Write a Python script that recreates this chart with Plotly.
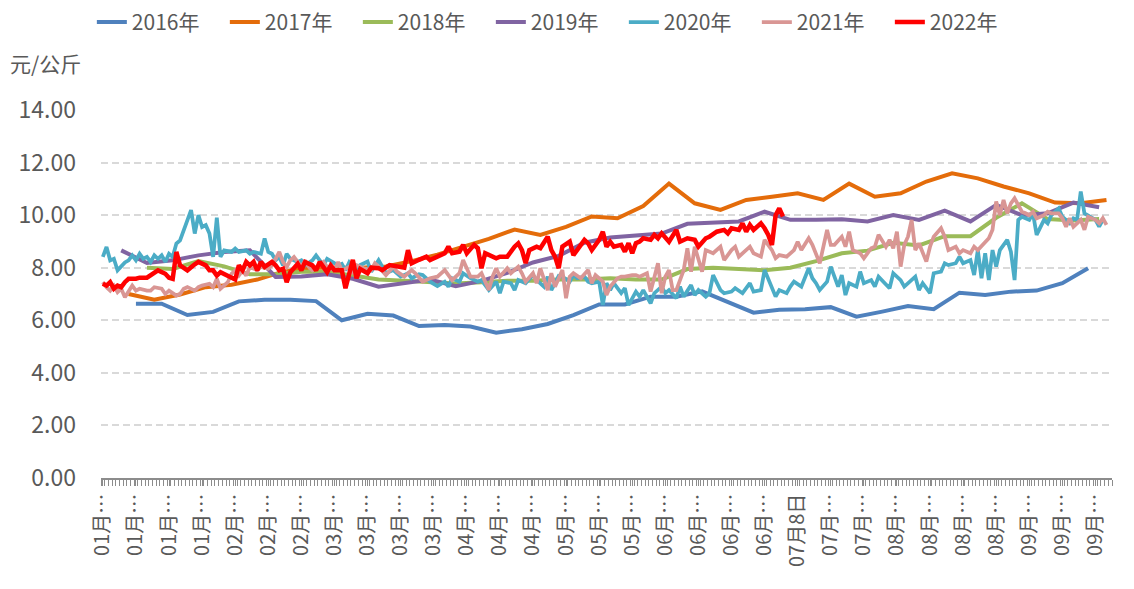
import plotly.graph_objects as go

# ---------------- data ----------------
tick_days = [0, 9, 18, 27, 36, 45, 54, 63, 72, 81, 90, 99, 108, 117, 126, 135, 144, 153, 162, 171, 180,
             189, 198, 207, 216, 225, 234, 243, 252, 261, 270]
tick_labels = ["01月…", "01月…", "01月…", "01月…", "02月…", "02月…", "02月…", "03月…", "03月…", "03月…",
               "03月…", "04月…", "04月…", "04月…", "05月…", "05月…", "05月…", "06月…", "06月…", "06月…",
               "06月…", "07月8日", "07月…", "07月…", "08月…", "08月…", "08月…", "08月…", "09月…", "09月…",
               "09月…"]
y_ticks = [0, 2, 4, 6, 8, 10, 12, 14]
y_tick_labels = ["0.00", "2.00", "4.00", "6.00", "8.00", "10.00", "12.00", "14.00"]

days_2016 = [9, 16, 23, 30, 37, 44, 51, 58, 65, 72, 79, 86, 93, 100, 107, 114, 121, 128, 135, 142, 149, 156,
             163, 170, 177, 184, 191, 198, 205, 212, 219, 226, 233, 240, 247, 254, 261, 268]
vals_2016 = [6.63, 6.63, 6.2, 6.32, 6.72, 6.78, 6.78, 6.73, 6.0, 6.25, 6.18, 5.78, 5.82, 5.76, 5.53, 5.66, 5.86,
             6.2, 6.6, 6.6, 6.9, 6.9, 7.1, 6.7, 6.29, 6.4, 6.42, 6.5, 6.14, 6.33, 6.54, 6.42, 7.05, 6.96, 7.09,
             7.13, 7.41, 7.98]

days_2017 = [7, 14, 21, 28, 35, 42, 49, 56, 63, 70, 77, 84, 91, 98, 105, 112, 119, 126, 133, 140, 147, 154,
             161, 168, 175, 182, 189, 196, 203, 210, 217, 224, 231, 238, 245, 252, 259, 266, 273]
vals_2017 = [7.0, 6.78, 6.98, 7.26, 7.35, 7.55, 7.85, 8.0, 8.0, 8.0, 8.05, 8.25, 8.5, 8.8, 9.1, 9.45, 9.25, 9.55,
             9.95, 9.88, 10.35, 11.2, 10.45, 10.2, 10.58, 10.7, 10.83, 10.58, 11.2, 10.7, 10.83, 11.28, 11.59,
             11.4, 11.09, 10.83, 10.48, 10.45, 10.58]

days_2018 = [12, 19, 26, 33, 40, 47, 54, 61, 68, 75, 82, 89, 96, 103, 110, 117, 124, 131, 138, 145, 152, 159,
             166, 173, 180, 187, 194, 201, 208, 215, 222, 229, 236, 243, 250, 257, 264, 271]
vals_2018 = [8.0, 7.95, 8.25, 8.05, 7.75, 7.75, 7.85, 7.85, 7.7, 7.55, 7.5, 7.45, 7.4, 7.45, 7.5, 7.5, 7.55, 7.55,
             7.6, 7.55, 7.55, 7.95, 8.0, 7.95, 7.9, 8.0, 8.25, 8.55, 8.65, 8.95, 8.85, 9.2, 9.2, 9.9, 10.45, 9.85,
             9.8, 9.85]

days_2019 = [5, 12, 19, 26, 33, 40, 47, 54, 61, 68, 75, 82, 89, 96, 103, 110, 117, 124, 131, 138, 145, 152,
             159, 166, 173, 180, 187, 194, 201, 208, 215, 222, 229, 236, 243, 250, 257, 264, 271]
vals_2019 = [8.66, 8.18, 8.28, 8.47, 8.6, 8.66, 7.65, 7.67, 7.75, 7.58, 7.28, 7.4, 7.55, 7.3, 7.5, 7.8, 8.2, 8.45,
             8.95, 9.15, 9.22, 9.3, 9.67, 9.72, 9.76, 10.13, 9.82, 9.82, 9.84, 9.76, 10.0, 9.82, 10.17, 9.76,
             10.39, 10.0, 10.07, 10.48, 10.3]

days_2020 = [0, 1, 2, 3, 4, 6, 7, 8, 9, 10, 11, 12, 13, 14, 15, 16, 17, 18, 19, 20, 21, 22, 23, 24, 25, 26, 27,
             28, 29, 30, 31, 32, 33, 35, 36, 37, 39, 40, 41, 43, 44, 45, 46, 47, 48, 49, 50, 51, 53, 54, 55, 57,
             58, 59, 60, 61, 63, 64, 65, 66, 67, 68, 69, 70, 72, 73, 75, 77, 79, 81, 83, 84, 86, 87, 89, 91, 93,
             94, 95, 97, 98, 100, 102, 103, 105, 107, 108, 109, 111, 112, 113, 115, 117, 118, 120, 121, 122, 124,
             125, 127, 128, 129, 131, 132, 133, 135, 136, 137, 138, 139, 141, 142, 143, 145, 146, 147, 149, 150,
             152, 153, 154, 156, 157, 158, 160, 161, 162, 164, 165, 166, 168, 169, 171, 172, 174, 176, 177, 179,
             180, 181, 183, 184, 186, 187, 188, 190, 191, 192, 193, 194, 195, 197, 198, 200, 201, 202, 203, 205,
             206, 207, 209, 210, 211, 213, 214, 215, 217, 218, 219, 221, 222, 223, 225, 226, 228, 229, 230, 232,
             233, 234, 236, 237, 238, 239, 240, 241, 242, 243, 244, 246, 247, 248, 249, 250, 252, 253, 254, 256,
             257, 258, 260, 261, 263, 264, 265, 266, 267, 269, 270, 271, 272]
vals_2020 = [8.41, 8.79, 8.28, 8.34, 7.9, 8.2, 8.28, 8.47, 8.28, 8.53, 8.34, 8.41, 8.22, 8.47, 8.34, 8.47, 8.22,
             8.53, 8.41, 8.92, 9.04, 9.43, 9.8, 10.19, 9.3, 10.0, 9.55, 9.62, 9.3, 8.41, 9.9, 8.41, 8.66, 8.6,
             8.73, 8.6, 8.66, 8.53, 8.6, 8.53, 9.11, 8.6, 8.53, 8.28, 8.41, 8.09, 8.53, 8.34, 8.22, 8.28, 8.09,
             8.28, 8.47, 8.28, 8.09, 8.34, 8.15, 8.09, 8.15, 7.9, 8.2, 8.0, 7.9, 8.1, 8.23, 7.85, 8.29, 7.79, 7.91,
             7.66, 7.79, 7.6, 7.75, 7.72, 7.47, 7.3, 7.47, 7.28, 7.6, 7.47, 7.79, 7.6, 7.47, 7.53, 7.15, 7.47,
             7.03, 7.47, 7.41, 7.15, 7.53, 7.41, 7.72, 7.53, 7.28, 7.66, 7.15, 7.69, 7.66, 7.47, 7.72, 7.6, 7.66,
             7.47, 7.41, 7.47, 6.58, 7.41, 7.15, 7.41, 7.03, 7.22, 6.58, 7.09, 6.9, 7.15, 6.64, 7.03, 7.28, 7.03,
             7.15, 6.84, 7.28, 6.9, 7.34, 6.96, 7.15, 6.9, 7.03, 7.72, 7.15, 7.03, 7.09, 7.22, 7.03, 7.41, 7.09,
             7.15, 7.91, 7.6, 6.9, 7.15, 7.03, 7.28, 7.47, 7.28, 7.66, 7.98, 7.6, 7.41, 7.15, 7.47, 8.04, 7.28,
             7.72, 6.96, 7.41, 7.28, 7.85, 7.41, 7.53, 7.28, 7.66, 7.34, 7.22, 7.79, 7.53, 7.28, 7.41, 7.66, 7.15,
             7.41, 7.03, 7.79, 7.85, 8.17, 8.1, 8.17, 8.42, 8.17, 8.29, 7.72, 8.67, 7.6, 8.55, 7.53, 8.67, 8.04,
             8.67, 9.06, 8.61, 7.53, 9.82, 9.94, 9.82, 10.07, 9.25, 9.82, 9.69, 10.0, 10.26, 9.94, 9.69, 9.88,
             9.82, 10.9, 10.07, 9.88, 9.82, 9.56, 9.82]

days_2021 = [0, 1, 2, 3, 4, 5, 6, 7, 8, 9, 10, 12, 13, 14, 16, 17, 18, 20, 21, 22, 23, 25, 26, 27, 29, 30, 31,
             32, 33, 34, 35, 36, 37, 38, 39, 40, 42, 43, 45, 46, 47, 48, 49, 50, 51, 52, 53, 54, 55, 56, 57, 59,
             60, 61, 63, 64, 65, 67, 68, 69, 71, 73, 74, 75, 77, 79, 80, 82, 84, 85, 87, 89, 91, 93, 95, 97, 98,
             100, 102, 103, 105, 106, 107, 108, 110, 111, 113, 114, 115, 117, 118, 119, 121, 122, 123, 125, 126,
             127, 128, 130, 132, 133, 134, 136, 137, 138, 140, 141, 142, 144, 145, 146, 148, 149, 150, 151, 152,
             153, 154, 155, 156, 158, 159, 160, 161, 163, 164, 166, 168, 169, 171, 172, 173, 175, 176, 177, 179,
             180, 182, 183, 184, 186, 188, 189, 190, 192, 193, 195, 196, 197, 198, 199, 201, 202, 203, 204, 206,
             207, 209, 210, 211, 213, 214, 215, 216, 217, 218, 219, 220, 221, 222, 224, 225, 226, 228, 229, 230,
             232, 233, 234, 236, 237, 238, 240, 241, 242, 243, 244, 245, 246, 247, 248, 250, 251, 252, 253, 254,
             256, 257, 258, 260, 261, 262, 263, 264, 266, 267, 268, 270, 271, 272, 273]
vals_2021 = [7.45, 7.26, 7.13, 7.32, 7.07, 7.2, 6.88, 7.13, 7.32, 7.13, 7.2, 7.13, 7.13, 7.26, 7.2, 7.0, 7.13,
             6.94, 7.0, 7.2, 7.26, 7.13, 7.26, 7.32, 7.39, 7.26, 7.58, 7.2, 7.32, 7.45, 7.77, 7.9, 7.7, 7.9, 7.7,
             8.03, 7.9, 8.03, 7.96, 8.09, 8.34, 8.6, 8.22, 8.03, 8.28, 8.41, 8.22, 8.03, 8.28, 8.03, 7.9, 8.09,
             8.22, 8.03, 7.9, 8.22, 7.9, 8.03, 7.77, 8.1, 7.98, 7.91, 8.17, 8.04, 7.72, 8.04, 7.85, 7.66, 7.91,
             7.79, 7.47, 7.6, 7.66, 7.91, 7.53, 7.79, 8.29, 7.66, 7.66, 7.79, 7.15, 7.66, 7.98, 7.66, 7.98, 7.79,
             8.04, 7.79, 7.47, 7.79, 7.41, 7.98, 7.15, 7.79, 7.28, 7.91, 6.84, 7.66, 7.79, 7.6, 7.91, 7.41, 7.72,
             7.47, 6.96, 7.28, 7.6, 7.66, 7.66, 7.72, 7.72, 7.66, 7.79, 7.09, 7.66, 8.17, 7.03, 7.66, 7.91, 7.15,
             7.15, 7.91, 8.74, 7.85, 8.8, 7.85, 8.67, 8.55, 8.8, 8.29, 8.67, 8.8, 8.42, 8.67, 8.8, 8.55, 8.42,
             9.06, 8.67, 8.36, 8.48, 8.42, 8.67, 8.99, 8.67, 9.12, 8.87, 8.17, 8.8, 9.44, 8.87, 8.87, 9.18, 8.8,
             9.37, 8.67, 8.55, 8.36, 8.74, 8.8, 9.25, 8.8, 9.06, 8.74, 9.37, 8.04, 8.87, 9.18, 9.82, 8.67, 8.93,
             8.23, 8.8, 9.18, 9.5, 9.18, 8.67, 8.8, 8.55, 8.67, 8.55, 8.8, 8.67, 8.99, 9.12, 9.44, 10.52, 10.0,
             10.58, 10.07, 10.45, 10.64, 10.13, 10.07, 10.0, 10.13, 9.88, 10.0, 10.13, 10.07, 10.07, 9.88, 9.56,
             9.88, 9.56, 9.82, 9.44, 9.94, 9.82, 9.69, 9.88, 9.63]

days_2022 = [0, 1, 2, 3, 4, 5, 6, 7, 9, 10, 12, 14, 15, 17, 18, 19, 20, 21, 23, 25, 26, 28, 29, 30, 31, 32, 34,
             35, 36, 37, 38, 39, 40, 41, 42, 43, 44, 46, 47, 48, 49, 50, 51, 53, 54, 55, 57, 58, 59, 61, 62, 63,
             65, 66, 67, 68, 69, 70, 72, 73, 75, 76, 78, 80, 82, 83, 84, 86, 88, 89, 91, 93, 94, 95, 97, 98, 99,
             101, 102, 103, 104, 106, 107, 108, 110, 112, 113, 114, 115, 116, 118, 119, 121, 122, 123, 124, 125,
             127, 128, 129, 131, 132, 133, 135, 136, 137, 138, 139, 141, 142, 143, 144, 145, 146, 147, 149, 150,
             151, 152, 154, 155, 156, 157, 159, 161, 162, 164, 165, 167, 169, 170, 171, 173, 174, 175, 176, 177,
             179, 180, 181, 182, 183, 184, 185]
vals_2022 = [7.39, 7.32, 7.45, 7.2, 7.32, 7.26, 7.45, 7.58, 7.58, 7.62, 7.62, 7.83, 7.9, 7.77, 7.62, 7.58, 8.6,
             8.09, 7.9, 8.13, 8.22, 8.09, 7.9, 7.9, 7.7, 7.83, 7.7, 7.62, 7.55, 8.09, 7.9, 8.22, 8.09, 8.22, 7.9,
             8.22, 8.03, 8.22, 8.09, 7.9, 7.96, 7.45, 7.83, 8.15, 7.9, 8.22, 8.09, 7.9, 8.22, 7.83, 8.09, 7.9, 7.9,
             7.22, 7.83, 8.3, 7.6, 7.95, 7.79, 8.0, 7.98, 7.91, 8.1, 8.04, 8.0, 8.67, 8.17, 8.3, 8.42, 8.29, 8.42,
             8.55, 8.8, 8.55, 8.61, 8.87, 8.55, 8.87, 8.74, 7.98, 8.55, 8.42, 8.36, 8.42, 8.42, 8.8, 8.93, 8.67,
             8.17, 8.67, 8.8, 8.74, 9.18, 8.67, 8.42, 7.98, 8.8, 8.99, 8.48, 8.67, 9.06, 8.93, 8.67, 9.06, 9.37,
             8.8, 8.99, 8.8, 8.87, 8.61, 8.93, 8.55, 8.93, 8.99, 9.12, 9.06, 9.25, 9.12, 9.31, 8.99, 9.18, 9.44,
             8.99, 9.12, 9.06, 8.8, 9.12, 9.18, 9.37, 9.44, 9.31, 9.5, 9.44, 9.69, 9.37, 9.63, 9.44, 9.69, 9.5,
             9.25, 8.87, 10.0, 10.26, 9.95]

series = [
    ("2016年", days_2016, vals_2016, "#4F81BD", 4),
    ("2017年", days_2017, vals_2017, "#E46C0A", 4),
    ("2018年", days_2018, vals_2018, "#9BBB59", 4),
    ("2019年", days_2019, vals_2019, "#8064A2", 4),
    ("2020年", days_2020, vals_2020, "#4BACC6", 3.75),
    ("2021年", days_2021, vals_2021, "#D99694", 3.75),
    ("2022年", days_2022, vals_2022, "#FF0000", 4.5),
]

FONT = "Noto Sans CJK SC"
GRAY = "#595959"

fig = go.Figure()
for name, xs, ys, color, w in series:
    fig.add_trace(go.Scatter(x=xs, y=ys, mode="lines", name=name,
                             line=dict(color=color, width=w)))

fig.update_layout(
    width=1134, height=589,
    margin=dict(l=101, r=22, t=110, b=111, autoexpand=False),
    paper_bgcolor="white", plot_bgcolor="white",
    font=dict(family=FONT, color=GRAY),
    legend=dict(orientation="h", xref="container", yref="container",
                x=0.081, xanchor="left", y=0.962, yanchor="middle",
                font=dict(size=21, color=GRAY, family=FONT),
                entrywidth=88, entrywidthmode="pixels",
                bgcolor="rgba(0,0,0,0)"),
    annotations=[dict(text="元/公斤", xref="paper", yref="paper", x=-0.092, y=1.128,
                      xanchor="left", yanchor="middle", showarrow=False,
                      font=dict(size=21, color=GRAY, family=FONT))],
)

fig.update_xaxes(
    automargin=False,
    range=[-0.5, 274.5], tickmode="array", tickvals=tick_days, ticktext=tick_labels,
    tickangle=-90, tickfont=dict(size=20, color=GRAY, family=FONT),
    showgrid=False, zeroline=False, showline=True, linecolor="#8C8C8C", linewidth=1.5,
    ticks="outside", ticklen=6, tickcolor="#8C8C8C", tickwidth=1,
    minor=dict(tickmode="linear", tick0=0.5, dtick=1, ticks="outside", ticklen=6,
               tickcolor="#8C8C8C", tickwidth=1, showgrid=False),
)
fig.update_yaxes(
    automargin=False,
    range=[0, 14], tickmode="array", tickvals=y_ticks, ticktext=y_tick_labels,
    tickfont=dict(size=23, color=GRAY, family=FONT),
    showgrid=True, gridcolor="#D9D9D9", gridwidth=2, griddash="7px,4px",
    zeroline=False, showline=False, ticks="", ticklabelstandoff=24,
)

fig.write_html("out.html", config={"displayModeBar": False},
               post_script="document.body.style.margin='0px';document.body.style.overflow='hidden';")
